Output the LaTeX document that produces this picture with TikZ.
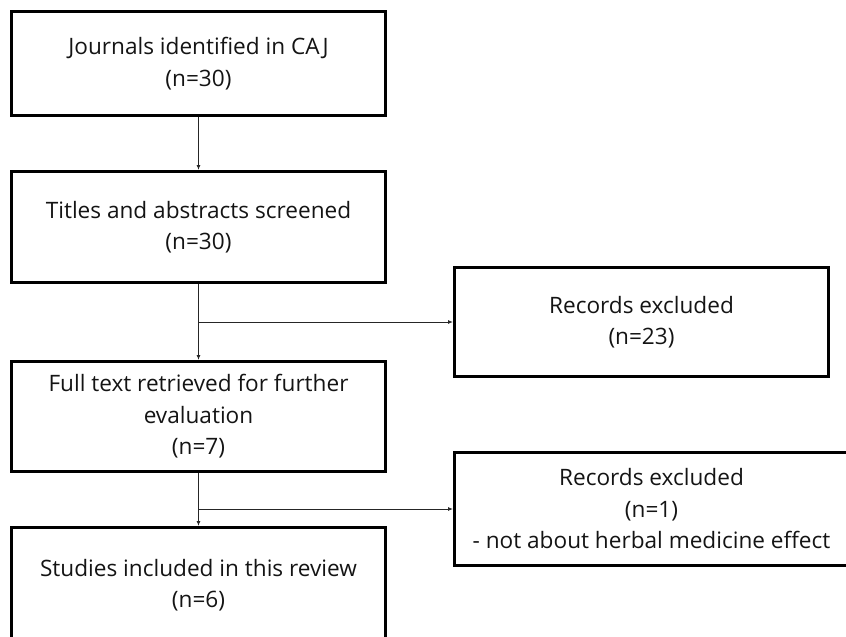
\documentclass[tikz,border=0pt]{standalone}
\usepackage{fontspec}
\setmainfont{Open Sans}
\usetikzlibrary{arrows.meta}
\begin{document}
\begin{tikzpicture}[x=1pt,y=-1pt,
  box/.style={draw=black, line width=3pt, align=center, inner sep=0pt,
    text=black!92, font=\fontsize{22.6}{31.5}\selectfont},
  arr/.style={line width=0.9pt, draw=black!85, -{Latex[length=5pt,width=4pt]}}]
\useasboundingbox (0,0) rectangle (846,637);
\clip (0,0) rectangle (846,637);
\node[box, minimum width=374pt, minimum height=104pt] (b1) at (198.5,63.5) {Journals identified in CAJ\\(n=30)};
\node[box, minimum width=374pt, minimum height=111pt] (b2) at (198.5,227) {Titles and abstracts screened\\(n=30)};
\node[box, minimum width=374pt, minimum height=109pt] (b3) at (641.5,322) {Records excluded\\(n=23)};
\node[box, minimum width=374pt, minimum height=110pt] (b4) at (198.5,416.5) {Full text retrieved for further\\evaluation\\(n=7)};
\node[box, minimum width=394pt, minimum height=113pt] (b5) at (651.5,509) {Records excluded\\(n=1)\\- not about herbal medicine effect};
\node[box, minimum width=374pt, minimum height=115pt] (b6) at (198.5,585) {Studies included in this review\\(n=6)};
\coordinate (j1) at (b2.south |- b3.west);
\coordinate (j2) at (b4.south |- b5.west);
\draw[arr] (b1.south) -- (b2.north);
\draw[arr] (b2.south) -- (b4.north);
\draw[arr] (j1) -- (b3.west);
\draw[arr] (b4.south) -- (b6.north);
\draw[arr] (j2) -- (b5.west);
\end{tikzpicture}
\end{document}
